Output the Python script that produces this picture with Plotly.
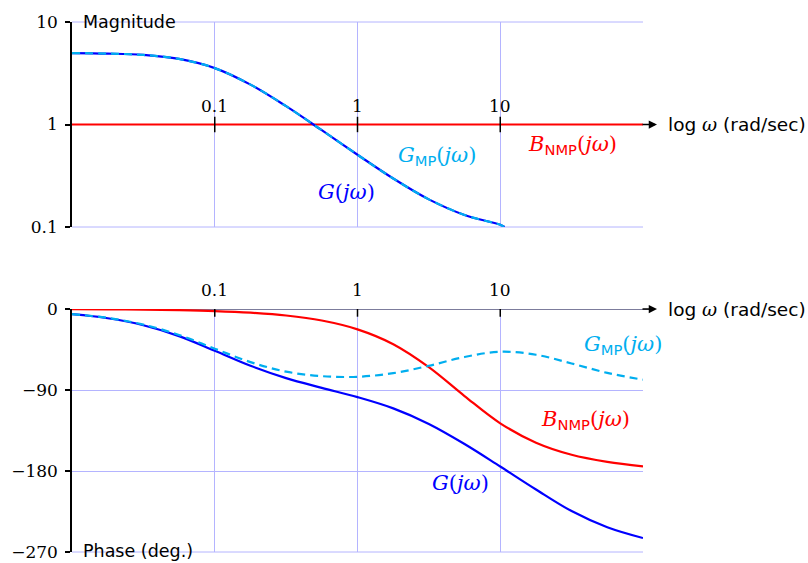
import numpy as np
import plotly.graph_objects as go

# ---------------- data ----------------
omega = [0.01, 0.0178, 0.0316, 0.0562, 0.1, 0.178, 0.316, 0.562, 1,
         1.78, 3.16, 5.62, 10, 17.8, 31.6, 56.2, 100]

mag_omega = [0.01, 0.0178, 0.0316, 0.0562, 0.1, 0.178, 0.316, 0.562, 1,
             1.78, 3.16, 5.62, 10, 10.7]
mag_G = [4.98, 4.92, 4.77, 4.36, 3.55, 2.45, 1.51, 0.88, 0.507,
         0.297, 0.186, 0.131, 0.105, 0.1]
mag_GMP = [4.98, 4.92, 4.77, 4.36, 3.55, 2.45, 1.51, 0.88, 0.507,
           0.297, 0.186, 0.131, 0.105, 0.1]
mag_B_omega = [0.01, 100]
mag_B = [1, 1]

phase_G = [-5.8, -10.3, -18.0, -30.1, -46.4, -63.1, -76.8, -87.6, -97.9,
           -110.4, -127.7, -150.0, -175.0, -200.5, -224.5, -242.5, -254.5]
phase_GMP = [-5.6, -9.9, -17.3, -28.8, -44.1, -59.0, -69.6, -74.6, -75.3,
             -71.3, -63.1, -53.3, -47.5, -50.8, -60.5, -71.0, -78.6]
phase_B = [-0.2, -0.4, -0.7, -1.3, -2.3, -4.1, -7.2, -12.8, -22.6,
           -39.1, -64.6, -96.7, -127.0, -148.6, -162.0, -169.8, -174.8]

omega_ticks = [0.1, 1, 10]
omega_tick_text = ["0.1", "1", "10"]
mag_ticks = [0.1, 1, 10]
mag_tick_text = ["0.1", "1", "10"]
phase_ticks = [0, -90, -180, -270]
phase_tick_text = ["0", "\u221290", "\u2212180", "\u2212270"]

# ---------------- styling ----------------
BLUE = "#0000FF"
CYAN = "#00AEEF"
RED = "#FF0000"
GRID = "#B4B4FF"
SERIF = "DejaVu Serif"
SANS = "DejaVu Sans"
LW = 2.2

fig = go.Figure()

# magnitude panel
fig.add_trace(go.Scatter(x=mag_B_omega, y=mag_B, mode="lines",
                         line=dict(color=RED, width=LW), xaxis="x", yaxis="y"))
fig.add_trace(go.Scatter(x=mag_omega, y=mag_G, mode="lines",
                         line=dict(color=BLUE, width=LW, shape="spline"),
                         xaxis="x", yaxis="y"))
fig.add_trace(go.Scatter(x=mag_omega, y=mag_GMP, mode="lines",
                         line=dict(color=CYAN, width=LW, shape="spline", dash="8px,5px"),
                         xaxis="x", yaxis="y"))

# phase panel
fig.add_trace(go.Scatter(x=omega, y=phase_B, mode="lines",
                         line=dict(color=RED, width=LW, shape="spline"),
                         xaxis="x2", yaxis="y2"))
fig.add_trace(go.Scatter(x=omega, y=phase_G, mode="lines",
                         line=dict(color=BLUE, width=LW, shape="spline"),
                         xaxis="x2", yaxis="y2"))
fig.add_trace(go.Scatter(x=omega, y=phase_GMP, mode="lines",
                         line=dict(color=CYAN, width=LW, shape="spline", dash="8px,5px"),
                         xaxis="x2", yaxis="y2"))

# frequency tick marks crossing the horizontal axes
tick_marker = dict(symbol="line-ns-open", size=11, color="black",
                   line=dict(color="black", width=1.5))
fig.add_trace(go.Scatter(x=omega_ticks, y=[1] * len(omega_ticks), mode="markers",
                         marker=tick_marker, xaxis="x", yaxis="y"))
fig.add_trace(go.Scatter(x=omega_ticks, y=[0] * len(omega_ticks), mode="markers",
                         marker=tick_marker, xaxis="x2", yaxis="y2"))

xcommon = dict(type="log", range=[-2, 2], showgrid=True, gridcolor=GRID, gridwidth=1,
               tickvals=omega_ticks, showticklabels=False, ticks="",
               showline=False, zeroline=False, automargin=False)
ycommon = dict(showgrid=True, gridcolor=GRID, gridwidth=1, zeroline=False,
               showline=True, linecolor="black", linewidth=1.5,
               ticks="outside", ticklen=5, tickwidth=1.5, tickcolor="black",
               tickfont=dict(family=SERIF, size=17, color="black"),
               ticklabelstandoff=4, automargin=False)

top_lo = (552 - 227) / 530
bot_hi = (552 - 309) / 530

fig.update_layout(
    width=808, height=563,
    margin=dict(l=72, r=165, t=22, b=11),
    paper_bgcolor="white", plot_bgcolor="white",
    showlegend=False,
    xaxis=dict(domain=[0, 1], anchor="y", **xcommon),
    yaxis=dict(domain=[top_lo, 1], anchor="x", type="log", range=[-1, 1],
               tickvals=mag_ticks, ticktext=mag_tick_text, **ycommon),
    xaxis2=dict(domain=[0, 1], anchor="y2", **xcommon),
    yaxis2=dict(domain=[0, bot_hi], anchor="x2", range=[-270, 0],
                tickvals=phase_ticks, ticktext=phase_tick_text, **ycommon),
)

# grid lines on the panel edges (plotly skips them)
for yr, yv in [("y domain", 0), ("y domain", 1), ("y2 domain", 0)]:
    xr = "x domain" if yr.startswith("y ") else "x2 domain"
    fig.add_shape(type="line", xref=xr, yref=yr, x0=0, x1=1, y0=yv, y1=yv,
                  line=dict(color=GRID, width=1), layer="below")

# phase-axis line (at 0 deg) with arrow
fig.add_shape(type="line", xref="x2 domain", yref="y2", x0=0, x1=1.015, y0=0, y1=0,
              line=dict(color="#7c7c9c", width=2), layer="below")

arrow_x = (657 - 72) / 571
for yref, yv in [("y domain", 0.5), ("y2 domain", 1.0)]:
    xr = "x domain" if yref.startswith("y ") else "x2 domain"
    fig.add_annotation(x=arrow_x, y=yv, xref=xr, yref=yref, ax=-16, ay=0,
                       axref="pixel", ayref="pixel", text="", showarrow=True,
                       arrowhead=2, arrowsize=1.1, arrowwidth=1.5, arrowcolor="black")

# frequency tick labels above the axes
for v, t in zip(omega_ticks, omega_tick_text):
    fig.add_annotation(x=np.log10(v), y=0, xref="x", yref="y", text=t, showarrow=False,
                       yshift=19, font=dict(family=SERIF, size=17, color="black"))
    fig.add_annotation(x=np.log10(v), y=0, xref="x2", yref="y2", text=t, showarrow=False,
                       yshift=19, font=dict(family=SERIF, size=17, color="black"))

# axis names
def paper_x(px):
    return (px - 72) / 571

def paper_y(py):
    return (552 - py) / 530

sans_font = dict(family=SANS, size=17.5, color="black")
axis_font = dict(family=SANS, size=18.5, color="black")
axis_label = 'log <span style="font-family:DejaVu Serif;font-style:italic">\u03c9</span> (rad/sec)'
fig.add_annotation(x=paper_x(666), y=paper_y(125), xref="paper", yref="paper",
                   text=axis_label, showarrow=False, xanchor="left", yanchor="middle",
                   font=axis_font)
fig.add_annotation(x=paper_x(666), y=paper_y(309), xref="paper", yref="paper",
                   text=axis_label, showarrow=False, xanchor="left", yanchor="middle",
                   font=axis_font)
fig.add_annotation(x=paper_x(81), y=paper_y(22), xref="paper", yref="paper",
                   text="Magnitude", showarrow=False, xanchor="left", yanchor="middle",
                   font=sans_font)
fig.add_annotation(x=paper_x(81), y=paper_y(551), xref="paper", yref="paper",
                   text="Phase (deg.)", showarrow=False, xanchor="left", yanchor="middle",
                   font=sans_font)

# curve labels
def sub(s):
    return ('<sub><span style="font-family:DejaVu Sans;font-style:normal">'
            + s + '</span></sub>')

lbl_G = "<i>G</i>(<i>j\u03c9</i>)"
lbl_GMP = "<i>G</i>" + sub("MP") + "(<i>j\u03c9</i>)"
lbl_B = "<i>B</i>" + sub("NMP") + "(<i>j\u03c9</i>)"

labels = [
    (lbl_GMP, CYAN, 437, 156),
    (lbl_B, RED, 572, 145),
    (lbl_G, BLUE, 346, 192),
    (lbl_GMP, CYAN, 623, 345),
    (lbl_B, RED, 585, 420),
    (lbl_G, BLUE, 460, 483),
]
for txt, col, px, py in labels:
    fig.add_annotation(x=paper_x(px), y=paper_y(py), xref="paper", yref="paper",
                       text=txt, showarrow=False, xanchor="center", yanchor="middle",
                       font=dict(family=SERIF, size=21, color=col))

fig.write_html("out.html", config={"displayModeBar": False},
               post_script="document.body.style.margin='0';")
